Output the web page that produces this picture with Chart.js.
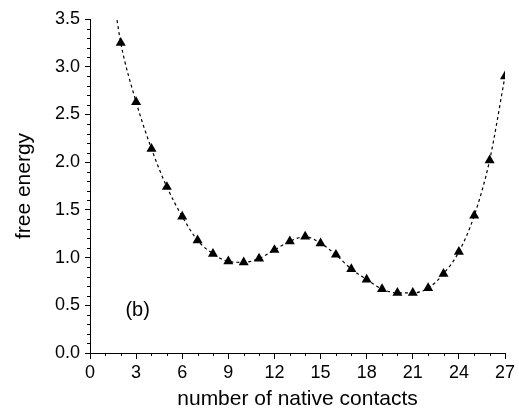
<!DOCTYPE html>
<html>
<head>
<meta charset="utf-8">
<script src="https://cdn.jsdelivr.net/npm/chart.js@4/dist/chart.umd.min.js"></script>
<style>
  html, body { margin: 0; padding: 0; background: #fff; }
  #wrap { width: 519px; height: 416px; }
</style>
</head>
<body>
<div id="wrap"><canvas id="fe"></canvas></div>
<script>
// number of native contacts vs free energy
const contacts = [2, 3, 4, 5, 6, 7, 8, 9, 10, 11, 12, 13, 14, 15, 16, 17, 18, 19, 20, 21, 22, 23, 24, 25, 26, 27];
const freeEnergy = [3.25, 2.63, 2.14, 1.74, 1.43, 1.18, 1.04, 0.96, 0.95, 0.99, 1.08, 1.17, 1.22, 1.15, 1.03, 0.88, 0.77, 0.67, 0.63, 0.63, 0.68, 0.83, 1.06, 1.44, 2.02, 2.90];
// fitted curve leaves the top of the frame just left of the first point
const curveStart = { x: 1.7, y: 3.55 };
const xTicks = [0, 3, 6, 9, 12, 15, 18, 21, 24, 27];
const yTicks = [0, 0.5, 1.0, 1.5, 2.0, 2.5, 3.0, 3.5];
const panelLabel = '(b)';

const FONT = 'Arial, "Liberation Sans", Helvetica, sans-serif';

const pts = contacts.map((c, i) => ({ x: c, y: freeEnergy[i] }));

const minorTicks = {
  id: 'minorTicks',
  afterDraw(chart) {
    const { ctx, scales: { x, y } } = chart;
    ctx.save();
    ctx.strokeStyle = '#000';
    ctx.lineWidth = 1;
    ctx.beginPath();
    for (let v = x.min; v <= x.max; v += 1) {
      if (v % 3 === 0) continue;
      const px = Math.round(x.getPixelForValue(v)) + 0.5;
      ctx.moveTo(px, y.bottom);
      ctx.lineTo(px, y.bottom + 3);
    }
    for (let k = 0; k <= 35; k++) {
      if (k % 5 === 0) continue;
      const py = Math.round(y.getPixelForValue(k / 10)) + 0.5;
      ctx.moveTo(x.left, py);
      ctx.lineTo(x.left - 3, py);
    }
    ctx.stroke();
    // panel label
    ctx.fillStyle = '#000';
    ctx.font = '20px ' + FONT;
    ctx.textAlign = 'center';
    ctx.textBaseline = 'middle';
    ctx.fillText(panelLabel, x.getPixelForValue(3.1), y.getPixelForValue(0.45));
    ctx.restore();
  }
};

new Chart(document.getElementById('fe'), {
  type: 'scatter',
  data: {
    datasets: [
      {
        type: 'line',
        data: [curveStart, ...pts],
        borderColor: '#000',
        borderWidth: 1.2,
        borderDash: [3, 3],
        cubicInterpolationMode: 'monotone',
        pointRadius: 0,
        fill: false,
      },
      {
        data: pts,
        pointStyle: 'triangle',
        pointRadius: 5.8,
        pointHoverRadius: 5.8,
        backgroundColor: '#000',
        borderColor: '#000',
        borderWidth: 0,
      },
    ],
  },
  options: {
    responsive: true,
    maintainAspectRatio: false,
    animation: false,
    events: [],
    layout: { padding: { top: 19, right: 14, left: 0, bottom: 0 } },
    plugins: { legend: { display: false }, tooltip: { enabled: false } },
    scales: {
      x: {
        type: 'linear',
        min: 0,
        max: 27,
        afterBuildTicks: (s) => { s.ticks = xTicks.map((v) => ({ value: v })); },
        afterFit: (s) => { s.height = 63; },
        ticks: { color: '#000', font: { family: FONT, size: 18 }, padding: 3, maxRotation: 0 },
        grid: { drawOnChartArea: false, tickLength: 6, color: '#000' },
        border: { color: '#000', width: 1 },
        title: { display: true, text: 'number of native contacts', color: '#000', font: { family: FONT, size: 21 }, padding: { top: 0, bottom: 4 } },
      },
      y: {
        type: 'linear',
        min: 0,
        max: 3.5,
        afterBuildTicks: (s) => { s.ticks = yTicks.map((v) => ({ value: v })); },
        afterFit: (s) => { s.width = 90; },
        ticks: { color: '#000', font: { family: FONT, size: 18 }, padding: 5, callback: (v) => v.toFixed(1) },
        grid: { drawOnChartArea: false, tickLength: 5, color: '#000' },
        border: { color: '#000', width: 1 },
        title: { display: true, text: 'free energy', color: '#000', font: { family: FONT, size: 21 }, padding: { top: 12, bottom: 0 } },
      },
    },
  },
  plugins: [minorTicks],
});
</script>
</body>
</html>
